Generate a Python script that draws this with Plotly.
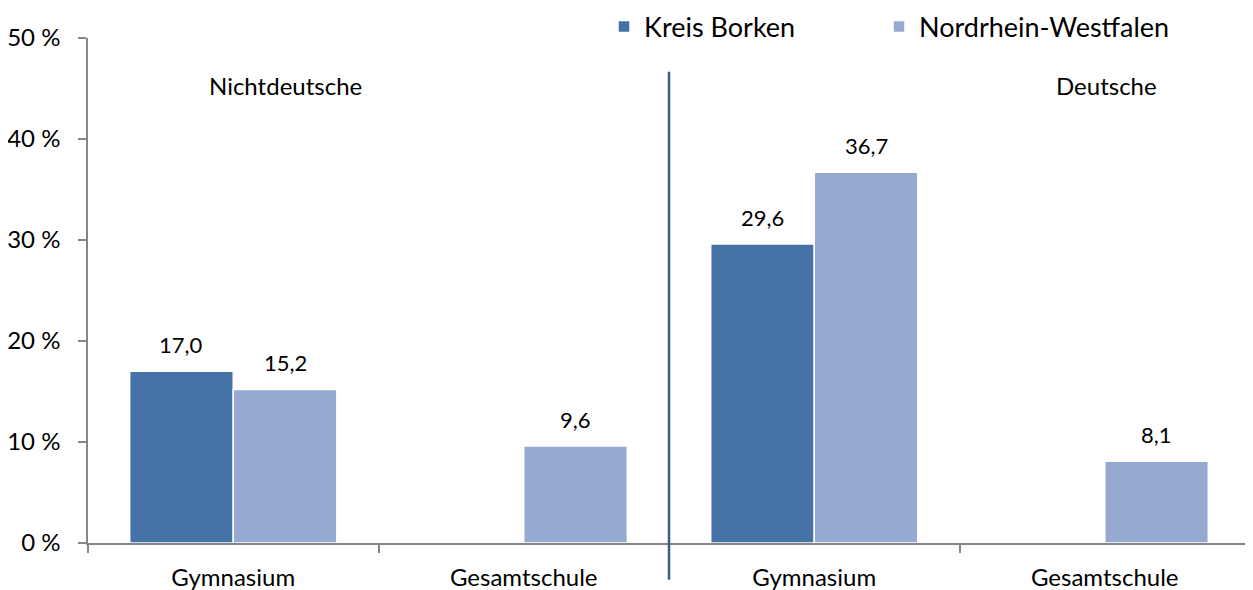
import plotly.graph_objects as go

# Schulform je Gruppe (Nichtdeutsche | Deutsche)
categories = ["Gymnasium", "Gesamtschule", "Gymnasium", "Gesamtschule"]
kreis_borken = [17.0, None, 29.6, None]
nrw = [15.2, 9.6, 36.7, 8.1]
group_labels = ["Nichtdeutsche", "Deutsche"]
y_ticks = [0, 10, 20, 30, 40, 50]

FONT = "Lato, Carlito, Calibri, sans-serif"
DARK = "#4573A7"
LIGHT = "#95A9D1"
BARGAP = 0.287

# the page body has an 8px margin, so the figure is drawn 8px smaller
W, H = 1245, 582
L, T = 80, 30
PLOT_W = 1162


def fmt(v):
    return f"{v:.1f}".replace(".", ",")


def px_x(screen_x):
    return (screen_x - 8 - L) / PLOT_W


x = list(range(len(categories)))

fig = go.Figure()

series = [("Kreis Borken", kreis_borken, DARK, "legend", 604),
          ("Nordrhein-Westfalen", nrw, LIGHT, "legend2", 879)]
bar_w = (1 - BARGAP) / len(series)

for i, (name, values, color, leg, _) in enumerate(series):
    fig.add_trace(go.Bar(
        name=name,
        x=x,
        y=values,
        legend=leg,
        marker=dict(color=color, line=dict(color="white", width=1.5)),
    ))
    # Datenbeschriftung etwas oberhalb der Balken
    offset = (i - (len(series) - 1) / 2) * bar_w
    for xi, v in zip(x, values):
        if v is None:
            continue
        fig.add_annotation(
            x=xi + offset, y=v, xref="x", yref="y",
            text=fmt(v), showarrow=False, yshift=27,
            font=dict(size=22, color="black"),
        )

# Trennlinie zwischen den Gruppen
fig.add_shape(
    type="line",
    xref="x", yref="paper",
    x0=1.5, x1=1.5, y0=-0.073, y1=0.933,
    line=dict(color="#3B5E8C", width=2.5),
)

for label, cx in zip(group_labels, [285, 1106]):
    fig.add_annotation(text=label, xref="paper", yref="paper",
                       x=px_x(cx), y=0.905, xanchor="center", yanchor="middle",
                       showarrow=False, font=dict(size=24, color="black"))

legend_style = dict(
    orientation="h", xanchor="left",
    yref="container", y=1 - 19 / H, yanchor="middle",
    font=dict(size=27), bgcolor="rgba(0,0,0,0)",
)

fig.update_layout(
    width=W,
    height=H,
    margin=dict(l=L, r=W - L - PLOT_W, t=T, b=47, autoexpand=False),
    barmode="group",
    bargap=BARGAP,
    bargroupgap=0,
    plot_bgcolor="white",
    paper_bgcolor="white",
    font=dict(family=FONT, size=22, color="black"),
    showlegend=True,
    legend=dict(x=px_x(series[0][4]), **legend_style),
    legend2=dict(x=px_x(series[1][4]), **legend_style),
    xaxis=dict(
        range=[-0.5, 3.5],
        tickvals=x,
        ticktext=categories,
        ticks="",
        ticklabelstandoff=12,
        showgrid=False,
        zeroline=False,
        showline=True,
        linecolor="#868686",
        linewidth=1.5,
        automargin=False,
        tickfont=dict(size=24),
        minor=dict(tickvals=[-0.5, 0.5, 1.5, 2.5, 3.5], ticks="outside",
                   ticklen=8, tickcolor="#868686", tickwidth=1.5),
    ),
    yaxis=dict(
        range=[0, 50],
        tickvals=y_ticks,
        ticktext=[f"{v} %" for v in y_ticks],
        ticks="outside",
        ticklen=8,
        tickcolor="#868686",
        tickwidth=1.5,
        ticklabelstandoff=13,
        showgrid=False,
        zeroline=False,
        showline=True,
        linecolor="#868686",
        linewidth=1.5,
        automargin=False,
        tickfont=dict(size=24),
    ),
)

fig.write_html("out.html")
